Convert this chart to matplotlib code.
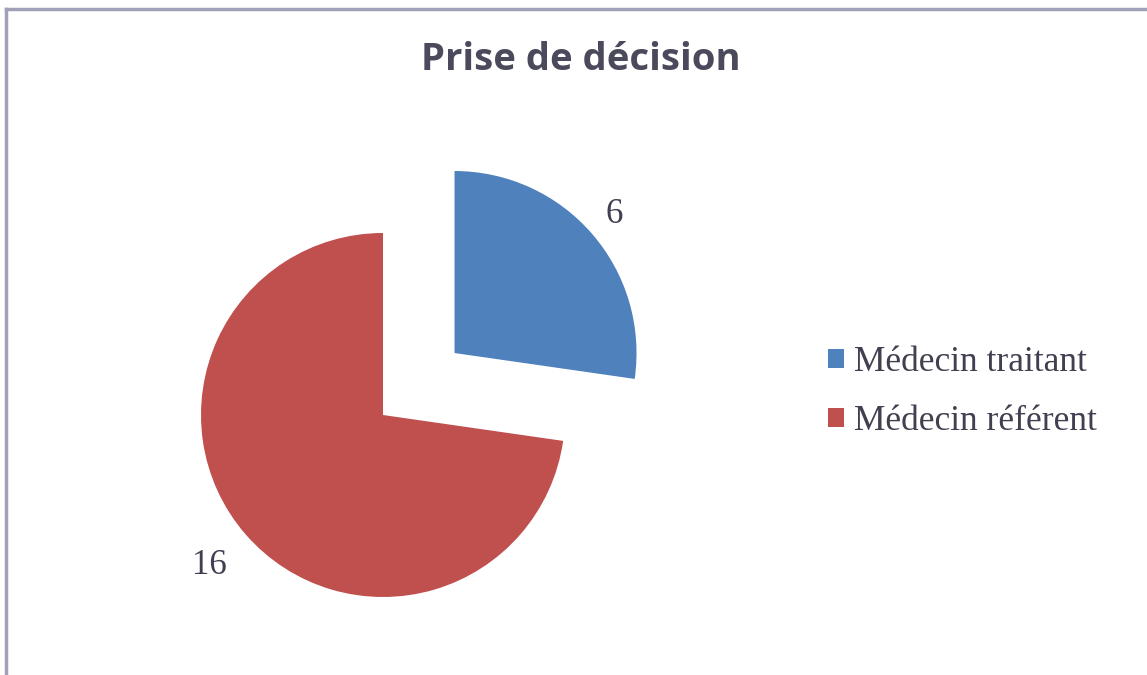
import numpy as np
import matplotlib
matplotlib.use("Agg")
import matplotlib.pyplot as plt
from matplotlib.lines import Line2D

# Data
categories = ["Médecin traitant", "Médecin référent"]
values = [6, 16]
colors = ["#4f81bd", "#c0504d"]
explode_frac = [0.52, 0.0]  # fraction of the radius

W, H = 1147, 675
fig = plt.figure(figsize=(W / 100, H / 100), dpi=100)
fig.patch.set_facecolor("white")

# axes in pixel units so aspect is equal
ax = fig.add_axes([0, 0, 1, 1])

radius = 182
wedges, _ = ax.pie(values, colors=colors, explode=[e * radius for e in explode_frac],
                   startangle=90, counterclock=False, radius=radius,
                   center=(383, H - 415), frame=True, wedgeprops=dict(linewidth=0))
ax.set_xlim(0, W)
ax.set_ylim(0, H)
ax.axis("off")

# data labels outside each wedge
label_dist = [1.16, 1.26]
for w, v, d in zip(wedges, values, label_dist):
    mid = np.deg2rad((w.theta1 + w.theta2) / 2)
    cx, cy = w.center
    ax.text(cx + d * radius * np.cos(mid), cy + d * radius * np.sin(mid), str(v),
            ha="center", va="center", fontsize=25, family="Liberation Serif",
            color="#404050")

fig.text(581 / W, 1 - 60 / H, "Prise de décision", ha="center", va="center",
         fontsize=27.5, fontweight="bold", family="Open Sans", color="#4a4a5c")

leg = fig.legend(wedges, categories, loc="center left",
                 bbox_to_anchor=(810 / W, 1 - 392 / H), frameon=False,
                 prop=dict(family="Liberation Serif", size=25.5),
                 handlelength=0.45, handleheight=0.45, handletextpad=0.3,
                 labelspacing=0.75, borderpad=0)
for t in leg.get_texts():
    t.set_color("#404050")

# chart border (left and top edges visible)
fig.add_artist(Line2D([6 / W, 6 / W], [0, 1 - 9 / H], color="#a0a0b8", lw=2.5))
fig.add_artist(Line2D([6 / W, 1], [1 - 9 / H, 1 - 9 / H], color="#a0a0b8", lw=2.5))

fig.savefig("out.png", dpi=100, facecolor="white")
